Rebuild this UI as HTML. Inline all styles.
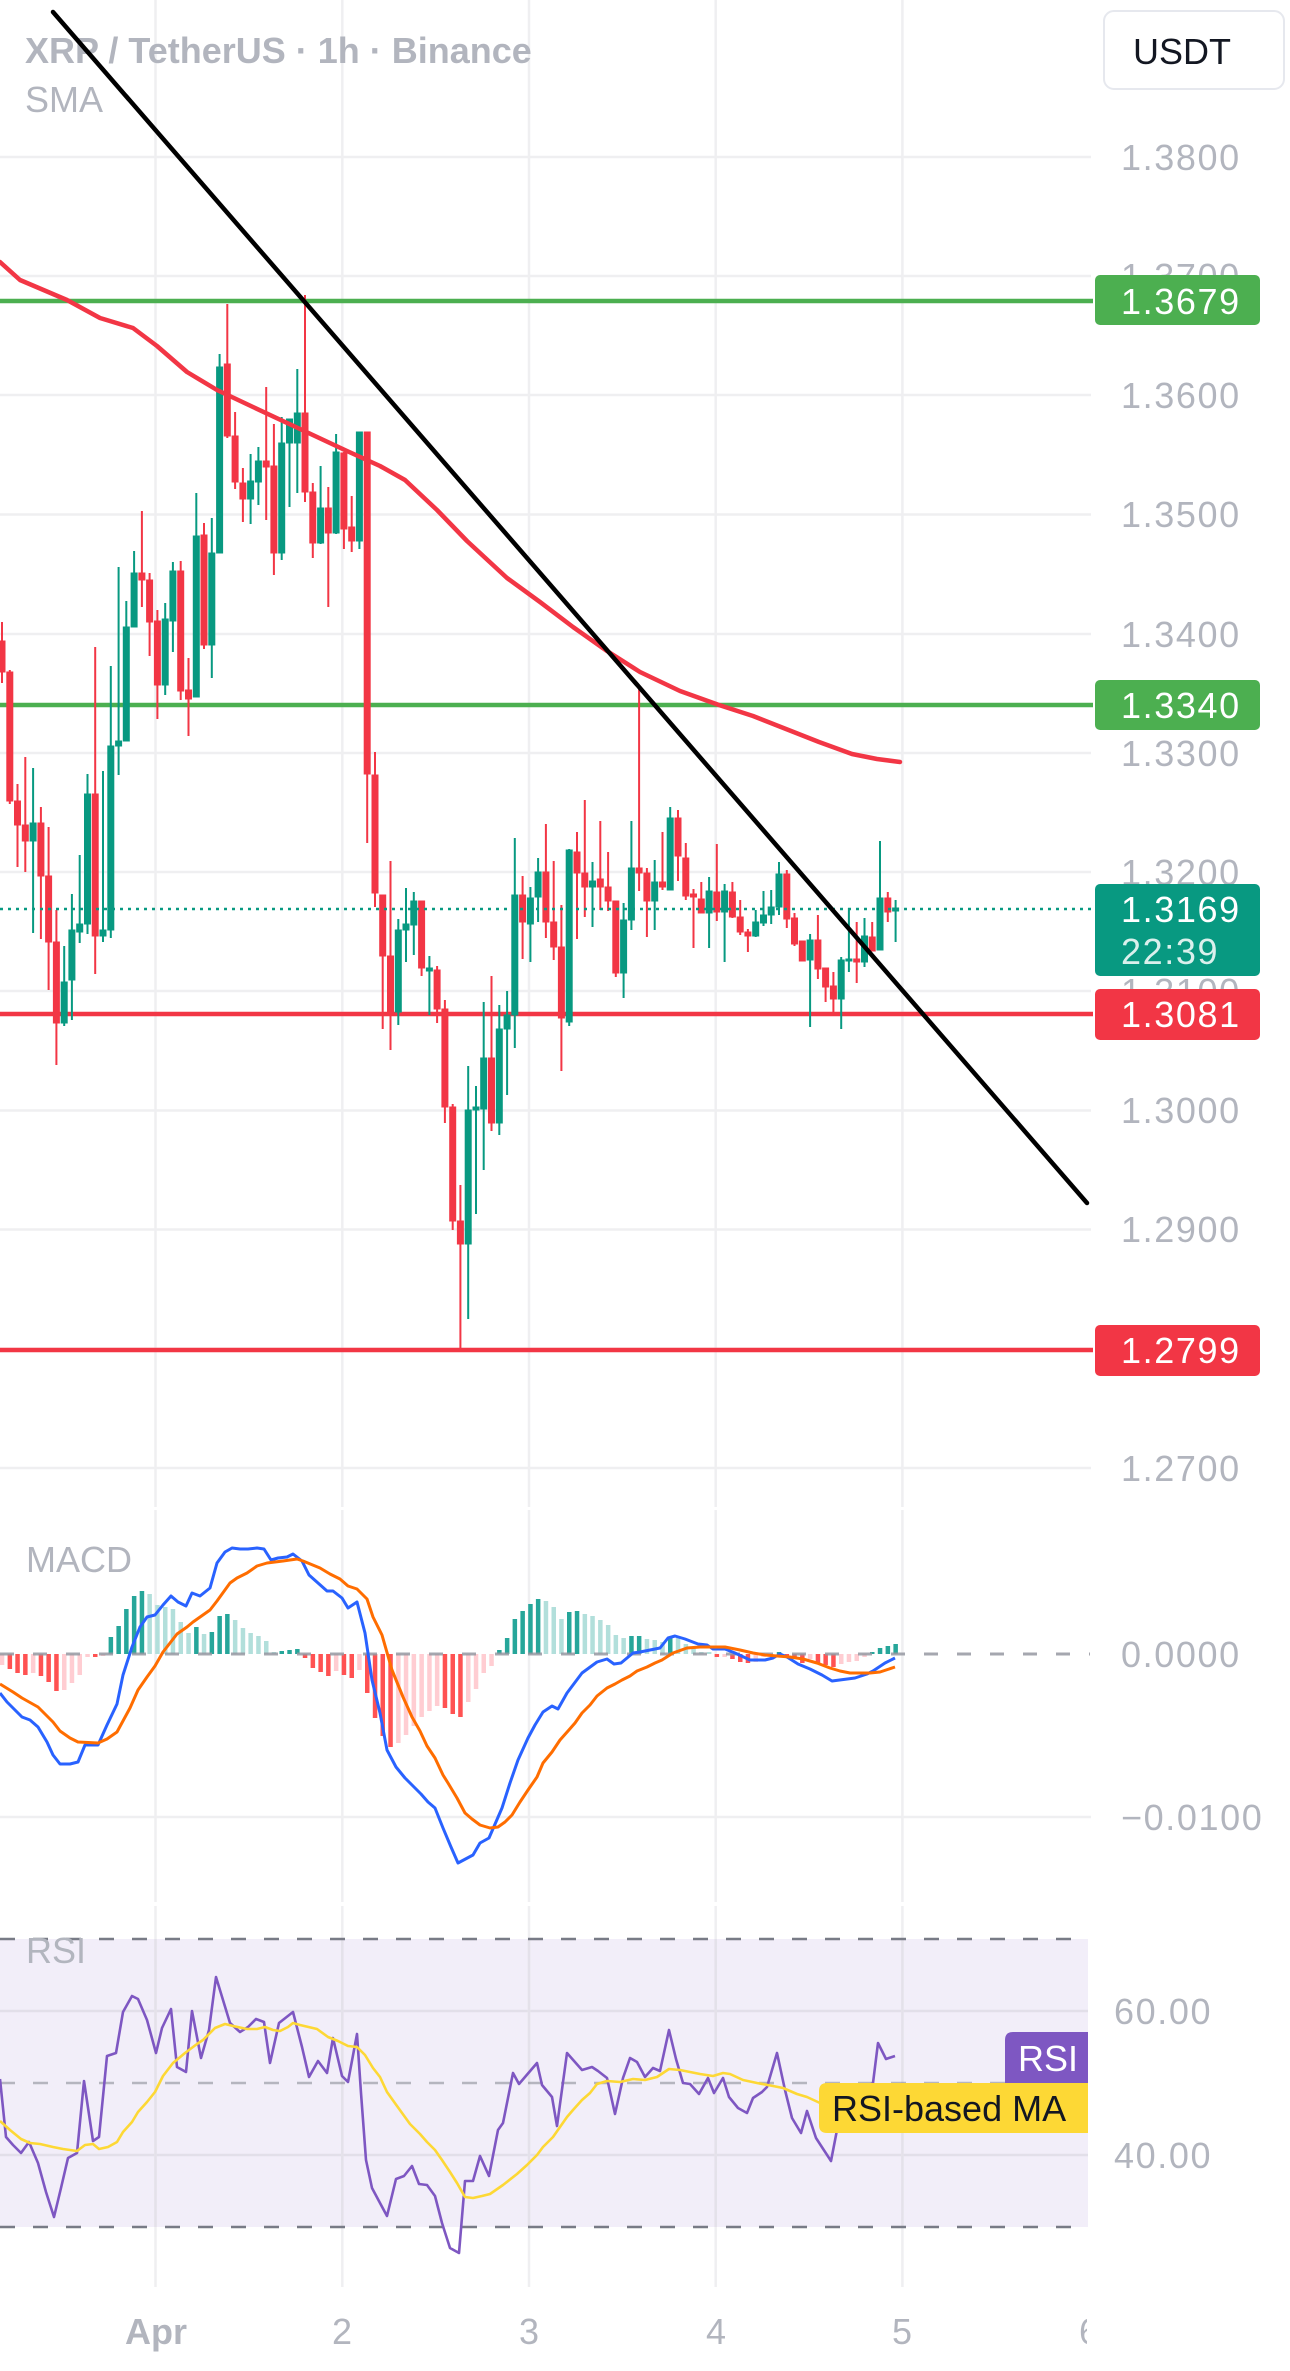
<!DOCTYPE html>
<html><head><meta charset="utf-8"><style>
html,body{margin:0;padding:0;background:#fff;}
svg{display:block;}
text{font-family:"Liberation Sans",sans-serif;}
.ax{font-size:36px;fill:#b2b5be;letter-spacing:1.6px;}
.lb{font-size:36px;fill:#ffffff;letter-spacing:1.6px;}
g.cr rect[width="6"]{stroke:#f23645;stroke-width:1;}
g.cg rect[width="6"]{stroke:#089981;stroke-width:1;}
</style></head><body>
<svg width="1290" height="2371" viewBox="0 0 1290 2371" xmlns="http://www.w3.org/2000/svg">
<rect x="0" y="0" width="1290" height="2371" fill="#ffffff"/>
<rect x="0" y="1939" width="1088" height="288" fill="#f2eef9"/>
<g stroke="#efeff1" stroke-width="2.5">
<line x1="0" y1="157" x2="1091" y2="157"/><line x1="0" y1="276" x2="1091" y2="276"/>
<line x1="0" y1="395" x2="1091" y2="395"/><line x1="0" y1="514.5" x2="1091" y2="514.5"/>
<line x1="0" y1="634" x2="1091" y2="634"/><line x1="0" y1="753" x2="1091" y2="753"/>
<line x1="0" y1="872" x2="1091" y2="872"/><line x1="0" y1="991" x2="1091" y2="991"/>
<line x1="0" y1="1110.5" x2="1091" y2="1110.5"/><line x1="0" y1="1229.5" x2="1091" y2="1229.5"/>
<line x1="0" y1="1349" x2="1091" y2="1349"/><line x1="0" y1="1468" x2="1091" y2="1468"/>
<line x1="0" y1="1817" x2="1091" y2="1817"/>
</g>
<g stroke="#e2dfe9" stroke-width="2.5">
<line x1="0" y1="2011" x2="1088" y2="2011"/><line x1="0" y1="2155" x2="1088" y2="2155"/>
</g>
<g stroke="#efeff1" stroke-width="2.5">
<path d="M155.5,0V1507M342.3,0V1507M529,0V1507M715.7,0V1507M902.4,0V1507"/>
<path d="M155.5,1510V1902M342.3,1510V1902M529,1510V1902M715.7,1510V1902M902.4,1510V1902"/>
<path d="M155.5,1906V2287M342.3,1906V2287M529,1906V2287M715.7,1906V2287M902.4,1906V2287"/>
</g>
<g stroke="#e4e1ea" stroke-width="2.5">
<path d="M155.5,1939V2227M342.3,1939V2227M529,1939V2227M715.7,1939V2227M902.4,1939V2227"/>
</g>

<text x="25" y="63" font-size="36" font-weight="bold" fill="#b2b5be">XRP / TetherUS · 1h · Binance</text>
<text x="25" y="112" font-size="36" fill="#b2b5be">SMA</text>

<line x1="0" y1="301" x2="1093" y2="301" stroke="#4caf50" stroke-width="4.5"/>
<line x1="0" y1="705" x2="1093" y2="705" stroke="#4caf50" stroke-width="4.5"/>
<line x1="0" y1="1014" x2="1093" y2="1014" stroke="#f23645" stroke-width="4.5"/>
<line x1="0" y1="1350" x2="1093" y2="1350" stroke="#f23645" stroke-width="4.5"/>

<g class="cr" fill="#f23645">
<rect x="1" y="622" width="2" height="61"/><rect x="-1" y="641" width="6" height="31"/>
<rect x="8.8" y="670" width="2" height="134"/><rect x="6.8" y="672" width="6" height="129"/>
<rect x="16.5" y="784" width="2" height="83"/><rect x="14.5" y="801" width="6" height="24"/>
<rect x="24.3" y="757" width="2" height="115"/><rect x="22.3" y="825" width="6" height="16"/>
<rect x="39.9" y="807" width="2" height="132"/><rect x="37.9" y="823" width="6" height="53"/>
<rect x="47.6" y="827" width="2" height="163"/><rect x="45.6" y="876" width="6" height="66"/>
<rect x="55.4" y="910" width="2" height="155"/><rect x="53.4" y="942" width="6" height="81"/>
<rect x="94.2" y="647" width="2" height="327"/><rect x="92.2" y="794" width="6" height="142"/>
<rect x="140.9" y="511" width="2" height="96"/><rect x="138.9" y="573" width="6" height="7"/>
<rect x="148.6" y="573" width="2" height="83"/><rect x="146.6" y="580" width="6" height="42"/>
<rect x="156.4" y="610" width="2" height="109"/><rect x="154.4" y="621" width="6" height="64"/>
<rect x="179.7" y="561" width="2" height="139"/><rect x="177.7" y="571" width="6" height="120"/>
<rect x="187.5" y="658" width="2" height="78"/><rect x="185.5" y="690" width="6" height="9"/>
<rect x="203" y="523" width="2" height="126"/><rect x="201" y="535" width="6" height="110"/>
<rect x="226.3" y="304" width="2" height="134"/><rect x="224.3" y="364" width="6" height="72"/>
<rect x="234.1" y="412" width="2" height="77"/><rect x="232.1" y="436" width="6" height="46"/>
<rect x="241.9" y="468" width="2" height="54"/><rect x="239.9" y="483" width="6" height="16"/>
<rect x="265.2" y="387" width="2" height="133"/><rect x="263.2" y="461" width="6" height="6"/>
<rect x="272.9" y="424" width="2" height="151"/><rect x="270.9" y="466" width="6" height="87"/>
<rect x="304" y="295" width="2" height="207"/><rect x="302" y="413" width="6" height="79"/>
<rect x="311.8" y="483" width="2" height="75"/><rect x="309.8" y="492" width="6" height="51"/>
<rect x="327.3" y="487" width="2" height="120"/><rect x="325.3" y="508" width="6" height="25"/>
<rect x="342.9" y="452" width="2" height="97"/><rect x="340.9" y="453" width="6" height="76"/>
<rect x="350.7" y="496" width="2" height="56"/><rect x="348.7" y="527" width="6" height="14"/>
<rect x="366.2" y="432" width="2" height="411"/><rect x="364.2" y="432" width="6" height="342"/>
<rect x="374" y="752" width="2" height="155"/><rect x="372" y="775" width="6" height="118"/>
<rect x="381.7" y="895" width="2" height="134"/><rect x="379.7" y="895" width="6" height="61"/>
<rect x="389.5" y="861" width="2" height="189"/><rect x="387.5" y="956" width="6" height="56"/>
<rect x="420.6" y="901" width="2" height="75"/><rect x="418.6" y="901" width="6" height="67"/>
<rect x="436.1" y="966" width="2" height="57"/><rect x="434.1" y="970" width="6" height="39"/>
<rect x="443.9" y="1000" width="2" height="123"/><rect x="441.9" y="1009" width="6" height="98"/>
<rect x="451.7" y="1104" width="2" height="126"/><rect x="449.7" y="1107" width="6" height="114"/>
<rect x="459.4" y="1185" width="2" height="163"/><rect x="457.4" y="1221" width="6" height="23"/>
<rect x="490.5" y="976" width="2" height="155"/><rect x="488.5" y="1058" width="6" height="65"/>
<rect x="521.6" y="876" width="2" height="83"/><rect x="519.6" y="895" width="6" height="27"/>
<rect x="544.9" y="824" width="2" height="114"/><rect x="542.9" y="872" width="6" height="50"/>
<rect x="552.7" y="861" width="2" height="99"/><rect x="550.7" y="922" width="6" height="25"/>
<rect x="560.4" y="905" width="2" height="166"/><rect x="558.4" y="947" width="6" height="71"/>
<rect x="576" y="832" width="2" height="107"/><rect x="574" y="852" width="6" height="21"/>
<rect x="583.8" y="800" width="2" height="117"/><rect x="581.8" y="873" width="6" height="14"/>
<rect x="599.3" y="821" width="2" height="89"/><rect x="597.3" y="879" width="6" height="8"/>
<rect x="607.1" y="852" width="2" height="59"/><rect x="605.1" y="887" width="6" height="14"/>
<rect x="614.8" y="901" width="2" height="76"/><rect x="612.8" y="901" width="6" height="72"/>
<rect x="638.1" y="685" width="2" height="206"/><rect x="636.1" y="868" width="6" height="5"/>
<rect x="645.9" y="868" width="2" height="69"/><rect x="643.9" y="873" width="6" height="28"/>
<rect x="661.5" y="832" width="2" height="58"/><rect x="659.5" y="882" width="6" height="5"/>
<rect x="677" y="810" width="2" height="71"/><rect x="675" y="818" width="6" height="38"/>
<rect x="684.8" y="843" width="2" height="57"/><rect x="682.8" y="858" width="6" height="38"/>
<rect x="692.5" y="889" width="2" height="59"/><rect x="690.5" y="894" width="6" height="3"/>
<rect x="700.3" y="882" width="2" height="31"/><rect x="698.3" y="899" width="6" height="14"/>
<rect x="715.8" y="844" width="2" height="77"/><rect x="713.8" y="892" width="6" height="20"/>
<rect x="731.4" y="882" width="2" height="36"/><rect x="729.4" y="892" width="6" height="25"/>
<rect x="739.2" y="900" width="2" height="35"/><rect x="737.2" y="917" width="6" height="15"/>
<rect x="746.9" y="929" width="2" height="23"/><rect x="744.9" y="932" width="6" height="4"/>
<rect x="785.8" y="870" width="2" height="58"/><rect x="783.8" y="874" width="6" height="45"/>
<rect x="793.5" y="913" width="2" height="33"/><rect x="791.5" y="918" width="6" height="26"/>
<rect x="801.3" y="941" width="2" height="20"/><rect x="799.3" y="941" width="6" height="20"/>
<rect x="816.9" y="915" width="2" height="64"/><rect x="814.9" y="940" width="6" height="29"/>
<rect x="824.6" y="968" width="2" height="34"/><rect x="822.6" y="968" width="6" height="19"/>
<rect x="832.4" y="972" width="2" height="40"/><rect x="830.4" y="986" width="6" height="13"/>
<rect x="855.7" y="922" width="2" height="61"/><rect x="853.7" y="959" width="6" height="3"/>
<rect x="871.2" y="922" width="2" height="29"/><rect x="869.2" y="937" width="6" height="14"/>
<rect x="886.8" y="892" width="2" height="30"/><rect x="884.8" y="898" width="6" height="14"/>
</g>
<g class="cg" fill="#089981">
<rect x="32.1" y="768" width="2" height="165"/><rect x="30.1" y="823" width="6" height="18"/>
<rect x="63.2" y="946" width="2" height="80"/><rect x="61.2" y="982" width="6" height="41"/>
<rect x="70.9" y="894" width="2" height="126"/><rect x="68.9" y="930" width="6" height="50"/>
<rect x="78.7" y="855" width="2" height="88"/><rect x="76.7" y="924" width="6" height="8"/>
<rect x="86.5" y="774" width="2" height="160"/><rect x="84.5" y="794" width="6" height="130"/>
<rect x="102" y="771" width="2" height="171"/><rect x="100" y="930" width="6" height="6"/>
<rect x="109.8" y="666" width="2" height="272"/><rect x="107.8" y="746" width="6" height="184"/>
<rect x="117.6" y="567" width="2" height="208"/><rect x="115.6" y="741" width="6" height="5"/>
<rect x="125.3" y="601" width="2" height="140"/><rect x="123.3" y="627" width="6" height="114"/>
<rect x="133.1" y="551" width="2" height="76"/><rect x="131.1" y="573" width="6" height="54"/>
<rect x="164.2" y="603" width="2" height="92"/><rect x="162.2" y="619" width="6" height="66"/>
<rect x="171.9" y="562" width="2" height="90"/><rect x="169.9" y="571" width="6" height="50"/>
<rect x="195.3" y="493" width="2" height="204"/><rect x="193.3" y="536" width="6" height="161"/>
<rect x="210.8" y="518" width="2" height="160"/><rect x="208.8" y="553" width="6" height="92"/>
<rect x="218.6" y="354" width="2" height="199"/><rect x="216.6" y="367" width="6" height="186"/>
<rect x="249.6" y="454" width="2" height="70"/><rect x="247.6" y="481" width="6" height="18"/>
<rect x="257.4" y="447" width="2" height="58"/><rect x="255.4" y="461" width="6" height="21"/>
<rect x="280.7" y="417" width="2" height="143"/><rect x="278.7" y="443" width="6" height="110"/>
<rect x="288.5" y="419" width="2" height="88"/><rect x="286.5" y="419" width="6" height="24"/>
<rect x="296.3" y="369" width="2" height="124"/><rect x="294.3" y="413" width="6" height="30"/>
<rect x="319.6" y="466" width="2" height="78"/><rect x="317.6" y="508" width="6" height="35"/>
<rect x="335.1" y="434" width="2" height="100"/><rect x="333.1" y="452" width="6" height="81"/>
<rect x="358.4" y="432" width="2" height="117"/><rect x="356.4" y="432" width="6" height="109"/>
<rect x="397.3" y="919" width="2" height="106"/><rect x="395.3" y="930" width="6" height="82"/>
<rect x="405" y="888" width="2" height="74"/><rect x="403" y="924" width="6" height="6"/>
<rect x="412.8" y="892" width="2" height="63"/><rect x="410.8" y="901" width="6" height="24"/>
<rect x="428.4" y="956" width="2" height="59"/><rect x="426.4" y="968" width="6" height="3"/>
<rect x="467.2" y="1066" width="2" height="253"/><rect x="465.2" y="1110" width="6" height="134"/>
<rect x="475" y="1086" width="2" height="128"/><rect x="473" y="1107" width="6" height="3"/>
<rect x="482.7" y="1002" width="2" height="168"/><rect x="480.7" y="1058" width="6" height="51"/>
<rect x="498.3" y="1005" width="2" height="130"/><rect x="496.3" y="1029" width="6" height="94"/>
<rect x="506.1" y="991" width="2" height="104"/><rect x="504.1" y="1015" width="6" height="14"/>
<rect x="513.8" y="838" width="2" height="210"/><rect x="511.8" y="895" width="6" height="120"/>
<rect x="529.4" y="887" width="2" height="75"/><rect x="527.4" y="898" width="6" height="26"/>
<rect x="537.1" y="858" width="2" height="64"/><rect x="535.1" y="872" width="6" height="25"/>
<rect x="568.2" y="849" width="2" height="177"/><rect x="566.2" y="850" width="6" height="172"/>
<rect x="591.5" y="862" width="2" height="65"/><rect x="589.5" y="881" width="6" height="6"/>
<rect x="622.6" y="903" width="2" height="95"/><rect x="620.6" y="920" width="6" height="53"/>
<rect x="630.4" y="821" width="2" height="109"/><rect x="628.4" y="868" width="6" height="52"/>
<rect x="653.7" y="860" width="2" height="70"/><rect x="651.7" y="882" width="6" height="19"/>
<rect x="669.2" y="807" width="2" height="83"/><rect x="667.2" y="818" width="6" height="72"/>
<rect x="708.1" y="877" width="2" height="71"/><rect x="706.1" y="891" width="6" height="22"/>
<rect x="723.6" y="884" width="2" height="78"/><rect x="721.6" y="891" width="6" height="21"/>
<rect x="754.7" y="910" width="2" height="27"/><rect x="752.7" y="922" width="6" height="14"/>
<rect x="762.5" y="891" width="2" height="35"/><rect x="760.5" y="915" width="6" height="8"/>
<rect x="770.2" y="890" width="2" height="34"/><rect x="768.2" y="907" width="6" height="8"/>
<rect x="778" y="862" width="2" height="53"/><rect x="776" y="874" width="6" height="33"/>
<rect x="809.1" y="934" width="2" height="93"/><rect x="807.1" y="940" width="6" height="20"/>
<rect x="840.2" y="957" width="2" height="72"/><rect x="838.2" y="960" width="6" height="39"/>
<rect x="847.9" y="908" width="2" height="64"/><rect x="845.9" y="959" width="6" height="2"/>
<rect x="863.5" y="918" width="2" height="49"/><rect x="861.5" y="936" width="6" height="26"/>
<rect x="879" y="841" width="2" height="109"/><rect x="877" y="898" width="6" height="52"/>
<rect x="894.6" y="900" width="2" height="42"/><rect x="892.6" y="908" width="6" height="3"/>
</g>

<line x1="0" y1="909" x2="1092" y2="909" stroke="#089981" stroke-width="2.5" stroke-dasharray="3 5"/>

<polyline fill="none" stroke="#f23645" stroke-width="4.5" stroke-linejoin="round" stroke-linecap="round"
points="0,262 20,280 67,300 100,318 133,328 157,346 187,372 217,390 253,407 300,429 347,451 380,466 405,480 437,510 467,541 507,578 540,602 573,627 607,651 640,672 680,691 719,705 753,716 786,729 819,742 852,754 877,759 900,762"/>

<line x1="53" y1="12" x2="1087" y2="1203" stroke="#000000" stroke-width="4.5" stroke-linecap="round"/>

<g>
<rect x="-0.2" y="1654" width="4.5" height="11" fill="#ffcdd2"/>
<rect x="7.6" y="1654" width="4.5" height="15" fill="#ff5252"/>
<rect x="15.3" y="1654" width="4.5" height="19" fill="#ff5252"/>
<rect x="23.1" y="1654" width="4.5" height="21" fill="#ff5252"/>
<rect x="30.9" y="1654" width="4.5" height="19" fill="#ffcdd2"/>
<rect x="38.7" y="1654" width="4.5" height="22" fill="#ff5252"/>
<rect x="46.4" y="1654" width="4.5" height="28" fill="#ff5252"/>
<rect x="54.2" y="1654" width="4.5" height="37" fill="#ff5252"/>
<rect x="62" y="1654" width="4.5" height="36" fill="#ffcdd2"/>
<rect x="69.7" y="1654" width="4.5" height="29" fill="#ffcdd2"/>
<rect x="77.5" y="1654" width="4.5" height="21" fill="#ffcdd2"/>
<rect x="85.3" y="1654" width="4.5" height="3" fill="#ffcdd2"/>
<rect x="93" y="1654" width="4.5" height="3" fill="#ff5252"/>
<rect x="100.8" y="1654" width="4.5" height="2" fill="#ffcdd2"/>
<rect x="108.6" y="1637" width="4.5" height="17" fill="#26a69a"/>
<rect x="116.4" y="1626" width="4.5" height="28" fill="#26a69a"/>
<rect x="124.1" y="1609" width="4.5" height="45" fill="#26a69a"/>
<rect x="131.9" y="1596" width="4.5" height="58" fill="#26a69a"/>
<rect x="139.7" y="1591" width="4.5" height="63" fill="#26a69a"/>
<rect x="147.4" y="1594" width="4.5" height="60" fill="#b2dfdb"/>
<rect x="155.2" y="1605" width="4.5" height="49" fill="#b2dfdb"/>
<rect x="163" y="1607" width="4.5" height="47" fill="#b2dfdb"/>
<rect x="170.7" y="1609" width="4.5" height="45" fill="#b2dfdb"/>
<rect x="178.5" y="1622" width="4.5" height="32" fill="#b2dfdb"/>
<rect x="186.3" y="1633" width="4.5" height="21" fill="#b2dfdb"/>
<rect x="194.1" y="1627" width="4.5" height="27" fill="#26a69a"/>
<rect x="201.8" y="1634" width="4.5" height="20" fill="#b2dfdb"/>
<rect x="209.6" y="1632" width="4.5" height="22" fill="#26a69a"/>
<rect x="217.4" y="1616" width="4.5" height="38" fill="#26a69a"/>
<rect x="225.1" y="1614" width="4.5" height="40" fill="#26a69a"/>
<rect x="232.9" y="1620" width="4.5" height="34" fill="#b2dfdb"/>
<rect x="240.7" y="1628" width="4.5" height="26" fill="#b2dfdb"/>
<rect x="248.4" y="1633" width="4.5" height="21" fill="#b2dfdb"/>
<rect x="256.2" y="1636" width="4.5" height="18" fill="#b2dfdb"/>
<rect x="264" y="1641" width="4.5" height="13" fill="#b2dfdb"/>
<rect x="271.7" y="1652" width="4.5" height="2" fill="#b2dfdb"/>
<rect x="279.5" y="1651" width="4.5" height="3" fill="#26a69a"/>
<rect x="287.3" y="1650" width="4.5" height="4" fill="#26a69a"/>
<rect x="295.1" y="1649" width="4.5" height="5" fill="#26a69a"/>
<rect x="302.8" y="1654" width="4.5" height="4" fill="#ff5252"/>
<rect x="310.6" y="1654" width="4.5" height="14" fill="#ff5252"/>
<rect x="318.4" y="1654" width="4.5" height="18" fill="#ff5252"/>
<rect x="326.1" y="1654" width="4.5" height="22" fill="#ff5252"/>
<rect x="333.9" y="1654" width="4.5" height="17" fill="#ffcdd2"/>
<rect x="341.7" y="1654" width="4.5" height="21" fill="#ff5252"/>
<rect x="349.5" y="1654" width="4.5" height="24" fill="#ff5252"/>
<rect x="357.2" y="1654" width="4.5" height="16" fill="#ffcdd2"/>
<rect x="365" y="1654" width="4.5" height="39" fill="#ff5252"/>
<rect x="372.8" y="1654" width="4.5" height="64" fill="#ff5252"/>
<rect x="380.5" y="1654" width="4.5" height="82" fill="#ff5252"/>
<rect x="388.3" y="1654" width="4.5" height="93" fill="#ff5252"/>
<rect x="396.1" y="1654" width="4.5" height="89" fill="#ffcdd2"/>
<rect x="403.8" y="1654" width="4.5" height="81" fill="#ffcdd2"/>
<rect x="411.6" y="1654" width="4.5" height="72" fill="#ffcdd2"/>
<rect x="419.4" y="1654" width="4.5" height="63" fill="#ffcdd2"/>
<rect x="427.2" y="1654" width="4.5" height="57" fill="#ffcdd2"/>
<rect x="434.9" y="1654" width="4.5" height="52" fill="#ffcdd2"/>
<rect x="442.7" y="1654" width="4.5" height="54" fill="#ff5252"/>
<rect x="450.5" y="1654" width="4.5" height="60" fill="#ff5252"/>
<rect x="458.2" y="1654" width="4.5" height="63" fill="#ff5252"/>
<rect x="466" y="1654" width="4.5" height="48" fill="#ffcdd2"/>
<rect x="473.8" y="1654" width="4.5" height="35" fill="#ffcdd2"/>
<rect x="481.5" y="1654" width="4.5" height="19" fill="#ffcdd2"/>
<rect x="489.3" y="1654" width="4.5" height="12" fill="#ffcdd2"/>
<rect x="497.1" y="1650" width="4.5" height="4" fill="#26a69a"/>
<rect x="504.9" y="1638" width="4.5" height="16" fill="#26a69a"/>
<rect x="512.6" y="1619" width="4.5" height="35" fill="#26a69a"/>
<rect x="520.4" y="1611" width="4.5" height="43" fill="#26a69a"/>
<rect x="528.2" y="1604" width="4.5" height="50" fill="#26a69a"/>
<rect x="535.9" y="1599" width="4.5" height="55" fill="#26a69a"/>
<rect x="543.7" y="1601" width="4.5" height="53" fill="#b2dfdb"/>
<rect x="551.5" y="1607" width="4.5" height="47" fill="#b2dfdb"/>
<rect x="559.2" y="1619" width="4.5" height="35" fill="#b2dfdb"/>
<rect x="567" y="1612" width="4.5" height="42" fill="#26a69a"/>
<rect x="574.8" y="1611" width="4.5" height="43" fill="#26a69a"/>
<rect x="582.6" y="1614" width="4.5" height="40" fill="#b2dfdb"/>
<rect x="590.3" y="1616" width="4.5" height="38" fill="#b2dfdb"/>
<rect x="598.1" y="1620" width="4.5" height="34" fill="#b2dfdb"/>
<rect x="605.9" y="1625" width="4.5" height="29" fill="#b2dfdb"/>
<rect x="613.6" y="1635" width="4.5" height="19" fill="#b2dfdb"/>
<rect x="621.4" y="1638" width="4.5" height="16" fill="#b2dfdb"/>
<rect x="629.2" y="1636" width="4.5" height="18" fill="#26a69a"/>
<rect x="636.9" y="1636" width="4.5" height="18" fill="#26a69a"/>
<rect x="644.7" y="1639" width="4.5" height="15" fill="#b2dfdb"/>
<rect x="652.5" y="1640" width="4.5" height="14" fill="#b2dfdb"/>
<rect x="660.3" y="1642" width="4.5" height="12" fill="#b2dfdb"/>
<rect x="668" y="1637" width="4.5" height="17" fill="#26a69a"/>
<rect x="675.8" y="1638" width="4.5" height="16" fill="#b2dfdb"/>
<rect x="683.6" y="1644" width="4.5" height="10" fill="#b2dfdb"/>
<rect x="691.3" y="1648" width="4.5" height="6" fill="#b2dfdb"/>
<rect x="699.1" y="1652" width="4.5" height="2" fill="#b2dfdb"/>
<rect x="706.9" y="1652" width="4.5" height="2" fill="#b2dfdb"/>
<rect x="714.6" y="1654" width="4.5" height="3" fill="#ff5252"/>
<rect x="722.4" y="1654" width="4.5" height="3" fill="#ffcdd2"/>
<rect x="730.2" y="1654" width="4.5" height="5" fill="#ff5252"/>
<rect x="738" y="1654" width="4.5" height="8" fill="#ff5252"/>
<rect x="745.7" y="1654" width="4.5" height="9" fill="#ff5252"/>
<rect x="753.5" y="1654" width="4.5" height="8" fill="#ffcdd2"/>
<rect x="761.3" y="1654" width="4.5" height="3" fill="#ffcdd2"/>
<rect x="769" y="1654" width="4.5" height="2" fill="#ffcdd2"/>
<rect x="776.8" y="1652" width="4.5" height="2" fill="#26a69a"/>
<rect x="784.6" y="1654" width="4.5" height="3" fill="#ff5252"/>
<rect x="792.3" y="1654" width="4.5" height="4" fill="#ff5252"/>
<rect x="800.1" y="1654" width="4.5" height="9" fill="#ff5252"/>
<rect x="807.9" y="1654" width="4.5" height="5" fill="#ffcdd2"/>
<rect x="815.7" y="1654" width="4.5" height="9" fill="#ff5252"/>
<rect x="823.4" y="1654" width="4.5" height="11" fill="#ff5252"/>
<rect x="831.2" y="1654" width="4.5" height="13" fill="#ff5252"/>
<rect x="839" y="1654" width="4.5" height="10" fill="#ffcdd2"/>
<rect x="846.7" y="1654" width="4.5" height="8" fill="#ffcdd2"/>
<rect x="854.5" y="1654" width="4.5" height="7" fill="#ffcdd2"/>
<rect x="862.3" y="1654" width="4.5" height="3" fill="#ffcdd2"/>
<rect x="870" y="1652" width="4.5" height="2" fill="#26a69a"/>
<rect x="877.8" y="1648" width="4.5" height="6" fill="#26a69a"/>
<rect x="885.6" y="1646" width="4.5" height="8" fill="#26a69a"/>
<rect x="893.4" y="1644" width="4.5" height="10" fill="#26a69a"/>
</g>
<line x1="0" y1="1654" x2="1090" y2="1654" stroke="#9598a1" stroke-opacity="0.85" stroke-width="3" stroke-dasharray="14 19"/>

<polyline fill="none" stroke="#2962ff" stroke-width="3" stroke-linejoin="round"
points="0,1693 7,1702 15,1710 22,1717 30,1720 38,1727 47,1742 53,1755 60,1764 70,1764 78,1762 85,1745 98,1745 107,1725 117,1704 123,1675 132,1647 140,1627 147,1617 155,1615 163,1605 171,1596 178,1602 186,1606 192,1593 200,1596 210,1588 217,1563 225,1552 232,1548 240,1549 248,1549 257,1548 264,1549 271,1560 278,1558 287,1557 293,1554 302,1561 309,1575 318,1583 327,1591 333,1591 342,1598 348,1608 357,1602 365,1633 372,1680 380,1713 387,1750 396,1767 405,1778 413,1786 421,1794 428,1802 435,1808 443,1828 451,1847 458,1863 473,1855 480,1843 489,1838 502,1808 510,1783 518,1760 528,1738 535,1725 543,1712 552,1706 558,1709 567,1693 582,1673 597,1662 607,1659 614,1664 621,1663 633,1653 640,1652 650,1650 660,1648 668,1638 675,1636 685,1639 698,1644 707,1645 713,1649 725,1649 735,1653 750,1660 765,1660 773,1658 780,1654 787,1657 798,1664 810,1669 822,1675 832,1681 855,1678 867,1674 873,1671 885,1663 895,1658"/>
<polyline fill="none" stroke="#ff6d00" stroke-width="3" stroke-linejoin="round"
points="0,1684 13,1692 22,1698 38,1707 53,1722 60,1731 70,1738 78,1742 98,1743 107,1739 117,1732 130,1708 138,1690 147,1677 155,1666 163,1652 177,1634 187,1627 193,1622 210,1610 217,1601 230,1583 237,1578 247,1573 257,1566 267,1563 283,1561 297,1559 303,1561 320,1568 330,1574 340,1579 348,1586 357,1589 367,1599 373,1617 382,1635 392,1670 403,1697 412,1717 420,1731 427,1746 435,1758 443,1775 448,1783 457,1798 465,1813 472,1819 480,1825 490,1828 498,1827 505,1822 512,1815 520,1802 528,1790 537,1777 543,1763 552,1752 560,1740 568,1731 575,1723 582,1713 590,1705 597,1696 607,1688 615,1684 622,1680 630,1676 637,1671 647,1667 655,1663 662,1660 673,1653 687,1648 700,1647 713,1647 725,1647 740,1650 753,1653 765,1655 777,1656 790,1657 803,1659 817,1663 830,1668 840,1671 850,1673 860,1673 870,1673 880,1672 895,1667"/>
<text x="26" y="1572" font-size="36" fill="#b2b5be">MACD</text>

<line x1="0" y1="1939" x2="1088" y2="1939" stroke="#787b86" stroke-width="2.5" stroke-dasharray="15 18"/>
<line x1="0" y1="2227" x2="1088" y2="2227" stroke="#787b86" stroke-width="2.5" stroke-dasharray="15 18"/>
<line x1="0" y1="2083" x2="1088" y2="2083" stroke="#787b86" stroke-opacity="0.5" stroke-width="2.5" stroke-dasharray="15 18"/>
<text x="26" y="1963" font-size="36" fill="#b2b5be">RSI</text>

<polyline fill="none" stroke="#7e57c2" stroke-width="2.6" stroke-linejoin="round"
points="0,2079 6,2137 13,2145 21,2153 29,2142 38,2163 46,2192 54,2217 61,2188 68,2158 77,2153 84,2081 93,2141 99,2137 107,2056 116,2053 123,2012 132,1996 138,1999 147,2020 156,2053 162,2028 171,2009 177,2067 186,2072 192,2011 201,2058 209,2030 216,1977 223,2000 230,2023 240,2032 248,2027 256,2019 264,2022 270,2063 279,2023 293,2012 302,2047 309,2077 318,2061 327,2073 333,2038 342,2076 348,2082 357,2034 361,2093 366,2160 372,2188 380,2203 387,2216 396,2179 404,2176 412,2166 419,2184 427,2185 435,2196 442,2223 450,2248 459,2253 465,2181 473,2181 480,2156 489,2176 498,2130 503,2123 513,2073 519,2084 537,2063 542,2085 552,2097 557,2126 567,2053 582,2070 592,2067 598,2071 607,2078 615,2114 623,2078 630,2058 637,2062 645,2077 653,2068 660,2071 669,2030 676,2059 683,2083 690,2084 699,2094 708,2078 714,2093 723,2078 729,2097 738,2108 747,2113 753,2098 762,2092 767,2087 777,2053 785,2090 792,2118 801,2133 807,2111 816,2138 831,2161 837,2130 860,2090 873,2083 878,2043 886,2059 895,2056"/>
<polyline fill="none" stroke="#fdd835" stroke-width="2.6" stroke-linejoin="round"
points="0,2121 10,2130 21,2139 30,2143 40,2144 53,2147 63,2149 77,2151 85,2145 93,2144 99,2149 108,2147 117,2142 123,2132 132,2122 138,2112 147,2102 155,2092 163,2076 173,2063 185,2053 197,2044 203,2040 215,2028 225,2024 233,2026 247,2029 257,2029 265,2027 273,2030 280,2031 288,2027 293,2023 300,2025 317,2029 328,2037 338,2041 348,2046 357,2047 365,2055 373,2068 380,2077 387,2092 397,2106 410,2124 420,2134 427,2142 435,2150 442,2160 450,2172 457,2183 465,2197 473,2198 482,2196 490,2194 503,2185 517,2174 527,2165 537,2155 543,2147 553,2137 560,2127 567,2117 573,2110 582,2100 590,2093 597,2084 607,2081 620,2082 633,2079 645,2080 657,2077 669,2069 680,2070 700,2074 713,2076 723,2073 730,2074 743,2080 757,2083 773,2086 783,2088 797,2094 807,2097 820,2103 895,2115"/>

<path d="M1013,2032 H1088 V2083 H1005 V2040 Q1005,2032 1013,2032 Z" fill="#7e57c2"/>
<text x="1018" y="2071" font-size="36" fill="#ffffff">RSI</text>
<path d="M827,2083 H1088 V2133 H827 Q819,2133 819,2125 V2091 Q819,2083 827,2083 Z" fill="#fdd835"/>
<text x="832" y="2121" font-size="36" fill="#131722">RSI-based MA</text>

<g class="ax">
<text x="1121" y="170">1.3800</text>
<text x="1121" y="289">1.3700</text>
<text x="1121" y="408">1.3600</text>
<text x="1121" y="527">1.3500</text>
<text x="1121" y="647">1.3400</text>
<text x="1121" y="766">1.3300</text>
<text x="1121" y="885">1.3200</text>
<text x="1121" y="1004">1.3100</text>
<text x="1121" y="1123">1.3000</text>
<text x="1121" y="1242">1.2900</text>
<text x="1121" y="1481">1.2700</text>
<text x="1121" y="1667">0.0000</text>
<text x="1121" y="1830">−0.0100</text>
<text x="1114" y="2024">60.00</text>
<text x="1114" y="2168">40.00</text>
</g>

<rect x="1095" y="275" width="165" height="50" rx="5" fill="#4caf50"/>
<text class="lb" x="1121" y="314">1.3679</text>
<rect x="1095" y="680" width="165" height="50" rx="5" fill="#4caf50"/>
<text class="lb" x="1121" y="718">1.3340</text>
<rect x="1095" y="884" width="165" height="92" rx="5" fill="#089981"/>
<text class="lb" x="1121" y="922">1.3169</text>
<text class="lb" x="1121" y="964" fill-opacity="0.85">22:39</text>
<rect x="1095" y="989" width="165" height="51" rx="5" fill="#f23645"/>
<text class="lb" x="1121" y="1027">1.3081</text>
<rect x="1095" y="1325" width="165" height="51" rx="5" fill="#f23645"/>
<text class="lb" x="1121" y="1363">1.2799</text>

<rect x="1104" y="11" width="180" height="78" rx="10" fill="#ffffff" stroke="#e6e8ee" stroke-width="2"/>
<text x="1133" y="64" font-size="36" fill="#131722">USDT</text>

<defs><clipPath id="tc"><rect x="0" y="2290" width="1087" height="81"/></clipPath></defs>
<g clip-path="url(#tc)" font-size="36" fill="#b2b5be" text-anchor="middle">
<text x="156" y="2344" font-weight="bold">Apr</text>
<text x="342" y="2344">2</text>
<text x="529" y="2344">3</text>
<text x="716" y="2344">4</text>
<text x="902" y="2344">5</text>
<text x="1089" y="2344">6</text>
</g>
</svg>
</body></html>
